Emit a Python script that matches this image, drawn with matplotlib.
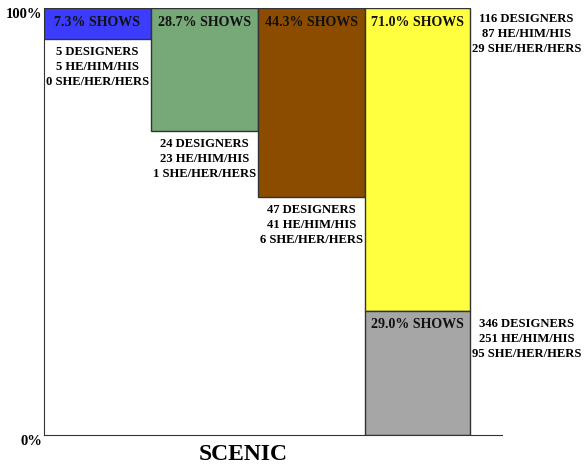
import matplotlib.pyplot as plt

plt.rcParams['font.family'] = ['Liberation Serif', 'DejaVu Serif']
plt.rcParams['font.weight'] = 'bold'

# data
showPct = [7.3, 28.7, 44.3, 71.0]
designers = [5, 24, 47, 116]
heHim = [5, 23, 41, 87]
sheHer = [0, 1, 6, 29]
colors = ['#3c3cff', '#76a878', '#8b4c00', '#ffff40']

totalPct = 29.0
totalDesigners = 346
totalHe = 251
totalShe = 95
totalColor = '#a6a6a6'

fig = plt.figure(figsize=(5.84, 4.72), dpi=100)
ax = fig.add_axes([0.0753, 0.0784, 0.7843, 0.9046])

xs = [0, 1, 2, 3]
widths = [1, 1, 1, 0.98]
for i, pct in enumerate(showPct):
    ax.bar(xs[i], pct, width=widths[i], bottom=100 - pct, align='edge',
           color=colors[i], edgecolor='#333333', linewidth=1)
    ax.text(xs[i] + widths[i] / 2, 96.6, f"{pct:.1f}% SHOWS", ha='center', va='center',
            fontsize=10.1, fontweight='bold', color='#111111')
    info = f"{designers[i]} DESIGNERS\n{heHim[i]} HE/HIM/HIS\n{sheHer[i]} SHE/HER/HERS"
    if i < 3:
        ax.text(xs[i] + 0.5, 100 - pct - 1.7, info, ha='center', va='top',
                fontsize=9.1, fontweight='bold', linespacing=1.33)
    else:
        ax.text(4.51, 98.9, info, ha='center', va='top', fontsize=9.1,
                fontweight='bold', linespacing=1.33, clip_on=False)

ax.bar(3, totalPct, width=0.98, align='edge', color=totalColor,
       edgecolor='#333333', linewidth=1)
ax.text(3.49, 25.8, f"{totalPct:.1f}% SHOWS", ha='center', va='center',
        fontsize=10.1, fontweight='bold', color='#111111')
ax.text(4.51, 27.5,
        f"{totalDesigners} DESIGNERS\n{totalHe} HE/HIM/HIS\n{totalShe} SHE/HER/HERS",
        ha='center', va='top', fontsize=9.1, fontweight='bold', linespacing=1.33,
        clip_on=False)

ax.set_xlim(0, 4.28)
ax.set_ylim(0, 100)
ax.set_xticks([])
ax.set_yticks([0, 100])
ax.set_yticklabels(['0%', '100%'], fontsize=10.5, fontweight='bold', va='top')
ax.tick_params(axis='y', length=0, pad=1)
ax.spines['top'].set_visible(False)
ax.spines['right'].set_visible(False)
ax.spines['left'].set_color('#333333')
ax.spines['bottom'].set_color('#333333')

fig.text(243 / 584, 1 - 455 / 472, 'SCENIC', ha='center', va='center',
         fontsize=17, fontweight='bold')

fig.savefig('out.png', dpi=100)
